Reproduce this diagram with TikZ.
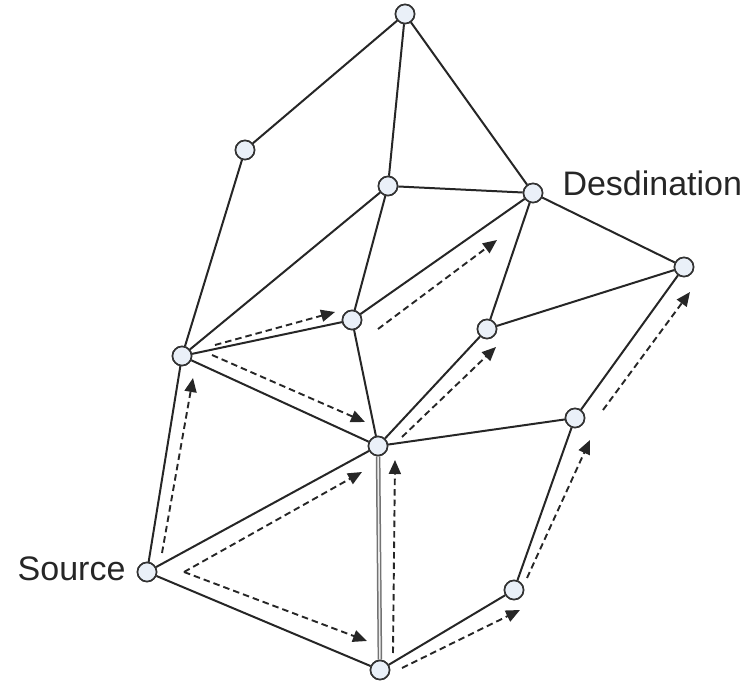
\documentclass[tikz,border=0pt]{standalone}
\usepackage{fontspec}
\setmainfont{Liberation Sans}
\usetikzlibrary{arrows.meta}
\definecolor{nodefill}{HTML}{EAF0F8}
\begin{document}
\begin{tikzpicture}[x=1pt,y=-1pt,
  vtx/.style={circle,draw=black!80,line width=1.6pt,fill=nodefill,minimum size=19pt,inner sep=0pt},
  edge/.style={draw=black!85,line width=2pt},
  dedge/.style={draw=black!55,double=gray!15,double distance=1.6pt,line width=1.5pt},
  flow/.style={draw=black!85,line width=1.9pt,dash pattern=on 6.5pt off 4pt,-{Triangle[length=14pt,width=12pt]}},
  lbl/.style={font=\fontsize{34}{40}\selectfont,text=black!85}]
\useasboundingbox (0,0) rectangle (753,684);
% nodes
\node[vtx] (T) at (405,14) {};
\node[vtx] (A) at (245,150) {};
\node[vtx] (B) at (388,186) {};
\node[vtx] (Dst) at (533,193) {};
\node[vtx] (C) at (684,267) {};
\node[vtx] (D) at (352,320) {};
\node[vtx] (E) at (487,329) {};
\node[vtx] (F) at (182,356) {};
\node[vtx] (G) at (378,446) {};
\node[vtx] (H) at (575,418) {};
\node[vtx] (S) at (147,572) {};
\node[vtx] (I) at (514,590) {};
\node[vtx] (J) at (380,670) {};
\node[lbl,anchor=east] (Ls) at (129,569) {Source};
\node[lbl,anchor=west] (Ld) at (559,183) {Desdination};
% edges
\draw[edge] (T) -- (A);
\draw[edge] (T) -- (B);
\draw[edge] (T) -- (Dst);
\draw[edge] (A) -- (F);
\draw[edge] (B) -- (Dst);
\draw[edge] (B) -- (F);
\draw[edge] (B) -- (D);
\draw[edge] (Dst) -- (C);
\draw[edge] (Dst) -- (E);
\draw[edge] (Dst) -- (D);
\draw[edge] (E) -- (C);
\draw[edge] (F) -- (D);
\draw[edge] (F) -- (G);
\draw[edge] (D) -- (G);
\draw[edge] (E) -- (G);
\draw[edge] (G) -- (H);
\draw[edge] (H) -- (C);
\draw[edge] (S) -- (F);
\draw[edge] (S) -- (G);
\draw[edge] (S) -- (J);
\draw[dedge] (G) -- (J);
\draw[edge] (J) -- (I);
\draw[edge] (I) -- (H);
% flow arrows
\coordinate (s0) at (184,572);
\coordinate (a1s) at (162,553); \coordinate (a1e) at (193,378);
\coordinate (a2e) at (362,472);
\coordinate (a3e) at (367,641);
\coordinate (a4s) at (393,653); \coordinate (a4e) at (395,460);
\coordinate (a5s) at (402,668); \coordinate (a5e) at (520,610);
\coordinate (a6s) at (527,578); \coordinate (a6e) at (590,440);
\coordinate (a7s) at (603,410); \coordinate (a7e) at (690,292);
\coordinate (a8s) at (212,355); \coordinate (a8e) at (365,422);
\coordinate (a9s) at (215,345); \coordinate (a9e) at (335,312);
\coordinate (a10s) at (378,329); \coordinate (a10e) at (497,240);
\coordinate (a11s) at (402,437); \coordinate (a11e) at (496,347);
\draw[flow] (a1s) -- (a1e);
\draw[flow] (s0) -- (a2e);
\draw[flow] (s0) -- (a3e);
\draw[flow] (a4s) -- (a4e);
\draw[flow] (a5s) -- (a5e);
\draw[flow] (a6s) -- (a6e);
\draw[flow] (a7s) -- (a7e);
\draw[flow] (a8s) -- (a8e);
\draw[flow] (a9s) -- (a9e);
\draw[flow] (a10s) -- (a10e);
\draw[flow] (a11s) -- (a11e);
% redraw nodes on top
\foreach \n in {T,A,B,Dst,C,D,E,F,G,H,S,I,J} {\node[vtx] at (\n) {};}
\end{tikzpicture}
\end{document}
